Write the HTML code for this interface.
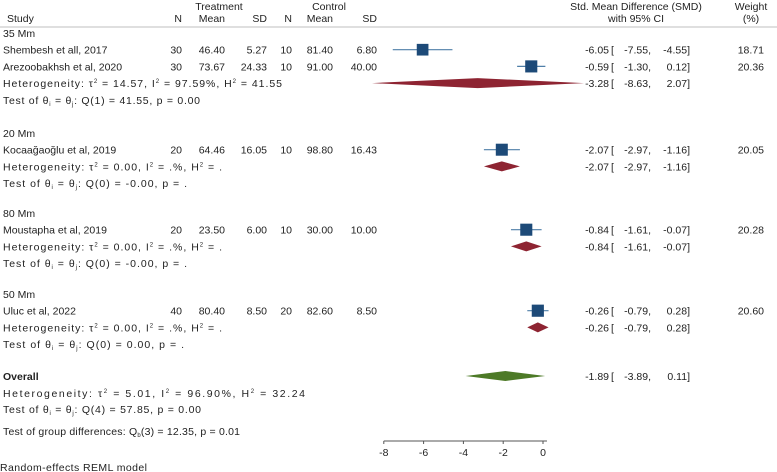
<!DOCTYPE html>
<html><head><meta charset="utf-8"><style>
body{margin:0;background:#fff}
svg{display:block;font-family:"Liberation Sans",Arial,sans-serif;font-size:10.5px;fill:#222}
</style></head><body>
<svg id="plot" width="777" height="472" viewBox="0 0 777 472" xmlns="http://www.w3.org/2000/svg">
<g id="hdr">
<text x="219" y="10" text-anchor="middle">Treatment</text>
<text x="329" y="10" text-anchor="middle">Control</text>
<text x="7" y="22">Study</text>
<text x="182" y="22" text-anchor="end">N</text>
<text x="225" y="22" text-anchor="end">Mean</text>
<text x="267" y="22" text-anchor="end">SD</text>
<text x="292" y="22" text-anchor="end">N</text>
<text x="333" y="22" text-anchor="end">Mean</text>
<text x="377" y="22" text-anchor="end">SD</text>
<text x="636" y="10" text-anchor="middle">Std. Mean Difference (SMD)</text>
<text x="636" y="22" text-anchor="middle">with 95% CI</text>
<text x="751" y="10" text-anchor="middle">Weight</text>
<text x="751" y="22" text-anchor="middle">(%)</text>
<line x1="0" y1="27" x2="777" y2="27" stroke="#aaa" stroke-width="0.8"/>
</g>
<g id="body"></g>
<g id="axis"></g>
</svg>
<script>
const studyNames=["Shembesh et all, 2017","Arezoobakhsh et al, 2020","Kocaağaoğlu et al,  2019","Moustapha  et al, 2019","Uluc et al, 2022"];
const studyGroup=[0,0,1,2,3];
const tN=[30,30,20,20,40];
const tMean=["46.40","73.67","64.46","23.50","80.40"];
const tSD=["5.27","24.33","16.05","6.00","8.50"];
const cN=[10,10,10,10,20];
const cMean=["81.40","91.00","98.80","30.00","82.60"];
const cSD=["6.80","40.00","16.43","10.00","8.50"];
const smd=[-6.05,-0.59,-2.07,-0.84,-0.26];
const lo=[-7.55,-1.30,-2.97,-1.61,-0.79];
const hi=[-4.55,0.12,-1.16,-0.07,0.28];
const weights=["18.71","20.36","20.05","20.28","20.60"];
const groupNames=["35 Mm","20 Mm","80 Mm","50 Mm"];
const groupEst=[-3.28,-2.07,-0.84,-0.26];
const groupLo=[-8.63,-2.97,-1.61,-0.79];
const groupHi=[2.07,-1.16,-0.07,0.28];
const groupTau=["14.57","0.00","0.00","0.00"];
const groupI2=["97.59%",".%",".%",".%"];
const groupH2=["41.55",".",".","."];
const groupQ=["Q(1) = 41.55, p = 0.00","Q(0) = -0.00, p = .","Q(0) = -0.00, p = .","Q(0) = 0.00, p = ."];
const overall=[-1.89,-3.89,0.11];
const ticks=[-8,-6,-4,-2,0];

const NS="http://www.w3.org/2000/svg";
const xS=v=>543+v*19.9;
const body=document.getElementById('body');
function el(tag,attrs,parent,txt){const e=document.createElementNS(NS,tag);for(const k in attrs)e.setAttribute(k,attrs[k]);if(txt!==undefined)e.textContent=txt;(parent||body).appendChild(e);return e;}
const fmt=v=>v.toFixed(2);
function ciText(g,y,e,l,h){
  el('text',{x:609,y:y,'text-anchor':'end'},g,fmt(e));
  el('text',{x:611,y:y},g,'[');
  el('text',{x:651,y:y,'text-anchor':'end'},g,fmt(l)+',');
  el('text',{x:690,y:y,'text-anchor':'end'},g,fmt(h)+']');
}
function hetText(g,y,tau,i2,h2,len){
  const t=el('text',{x:3,y:y,textLength:len,lengthAdjust:'spacing'},g);
  t.innerHTML='Heterogeneity: τ<tspan dy="-4" font-size="6">2</tspan><tspan dy="4"> = '+tau+', I</tspan><tspan dy="-4" font-size="6">2</tspan><tspan dy="4"> = '+i2+', H</tspan><tspan dy="-4" font-size="6">2</tspan><tspan dy="4"> = '+h2+'</tspan>';
}
function testText(g,y,q,len){
  const t=el('text',{x:3,y:y,textLength:len,lengthAdjust:'spacing'},g);
  t.innerHTML='Test of θ<tspan dy="2" font-size="6">i</tspan><tspan dy="-2"> = θ</tspan><tspan dy="2" font-size="6">j</tspan><tspan dy="-2">: '+q+'</tspan>';
}
function diamond(g,y,e,l,h,color,hh){
  const L=Math.max(xS(l),372),R=Math.min(xS(h),584);
  el('polygon',{points:`${L},${y} ${xS(e)},${y-hh} ${R},${y} ${xS(e)},${y+hh}`,fill:color},g);
}
const groupY=[33,133,213,294];
const hetLen=[279,219,219,219];
const testLen=[197,184,184,181];
groupNames.forEach((gn,gi)=>{
  const g=el('g',{});
  
  
  let y=groupY[gi];
  el('text',{x:3,y:y+4},g,gn);
  studyGroup.forEach((sg,i)=>{
    if(sg!==gi)return;
    y+=16.7;
    const r=el('g',{},g);
    
    
    const ty=y+4;
    el('text',{x:3,y:ty},r,studyNames[i]);
    el('text',{x:182,y:ty,'text-anchor':'end'},r,tN[i]);
    el('text',{x:225,y:ty,'text-anchor':'end'},r,tMean[i]);
    el('text',{x:267,y:ty,'text-anchor':'end'},r,tSD[i]);
    el('text',{x:292,y:ty,'text-anchor':'end'},r,cN[i]);
    el('text',{x:333,y:ty,'text-anchor':'end'},r,cMean[i]);
    el('text',{x:377,y:ty,'text-anchor':'end'},r,cSD[i]);
    el('line',{x1:xS(lo[i]),x2:xS(hi[i]),y1:y,y2:y,stroke:'#4f7fa8','stroke-width':1.2},r);
    const s=7+parseFloat(weights[i])*0.25;
    const b=el('rect',{x:xS(smd[i])-s/2,y:y-s/2,width:s,height:s,fill:'#1d4a78'},r);
    
    
    ciText(r,ty,smd[i],lo[i],hi[i]);
    el('text',{x:764,y:ty,'text-anchor':'end'},r,weights[i]);
  });
  y+=16.7;
  hetText(g,y+4,groupTau[gi],groupI2[gi],groupH2[gi],hetLen[gi]);
  diamond(g,y,groupEst[gi],groupLo[gi],groupHi[gi],'#8e2432',5);
  ciText(g,y+4,groupEst[gi],groupLo[gi],groupHi[gi]);
  y+=16.7;
  testText(g,y+4,groupQ[gi],testLen[gi]);
});
const og=el('g',{});


el('text',{x:3,y:380,'font-weight':'bold'},og,'Overall');
diamond(og,376,overall[0],overall[1],overall[2],'#4d7a27',5);
ciText(og,380,overall[0],overall[1],overall[2]);
hetText(og,397,'5.01','96.90%','32.24',302);
testText(og,413,'Q(4) = 57.85, p = 0.00',198);
const gt=el('text',{x:3,y:435,textLength:237,lengthAdjust:'spacing'},og);
gt.innerHTML='Test of group differences: Q<tspan dy="2" font-size="6">b</tspan><tspan dy="-2">(3) = 12.35, p = 0.01</tspan>';
el('text',{x:0,y:471,textLength:147,lengthAdjust:'spacing'},og,'Random-effects REML model');
const ax=document.getElementById('axis');
el('line',{x1:xS(-8),x2:xS(0.2),y1:441,y2:441,stroke:'#555','stroke-width':1},ax);
ticks.forEach(t=>{
  el('line',{x1:xS(t),x2:xS(t),y1:441,y2:444,stroke:'#555'},ax);
  const tl=el('text',{x:xS(t),y:456,'text-anchor':'middle'},ax,String(t));
  
  
});
</script>
</body></html>
